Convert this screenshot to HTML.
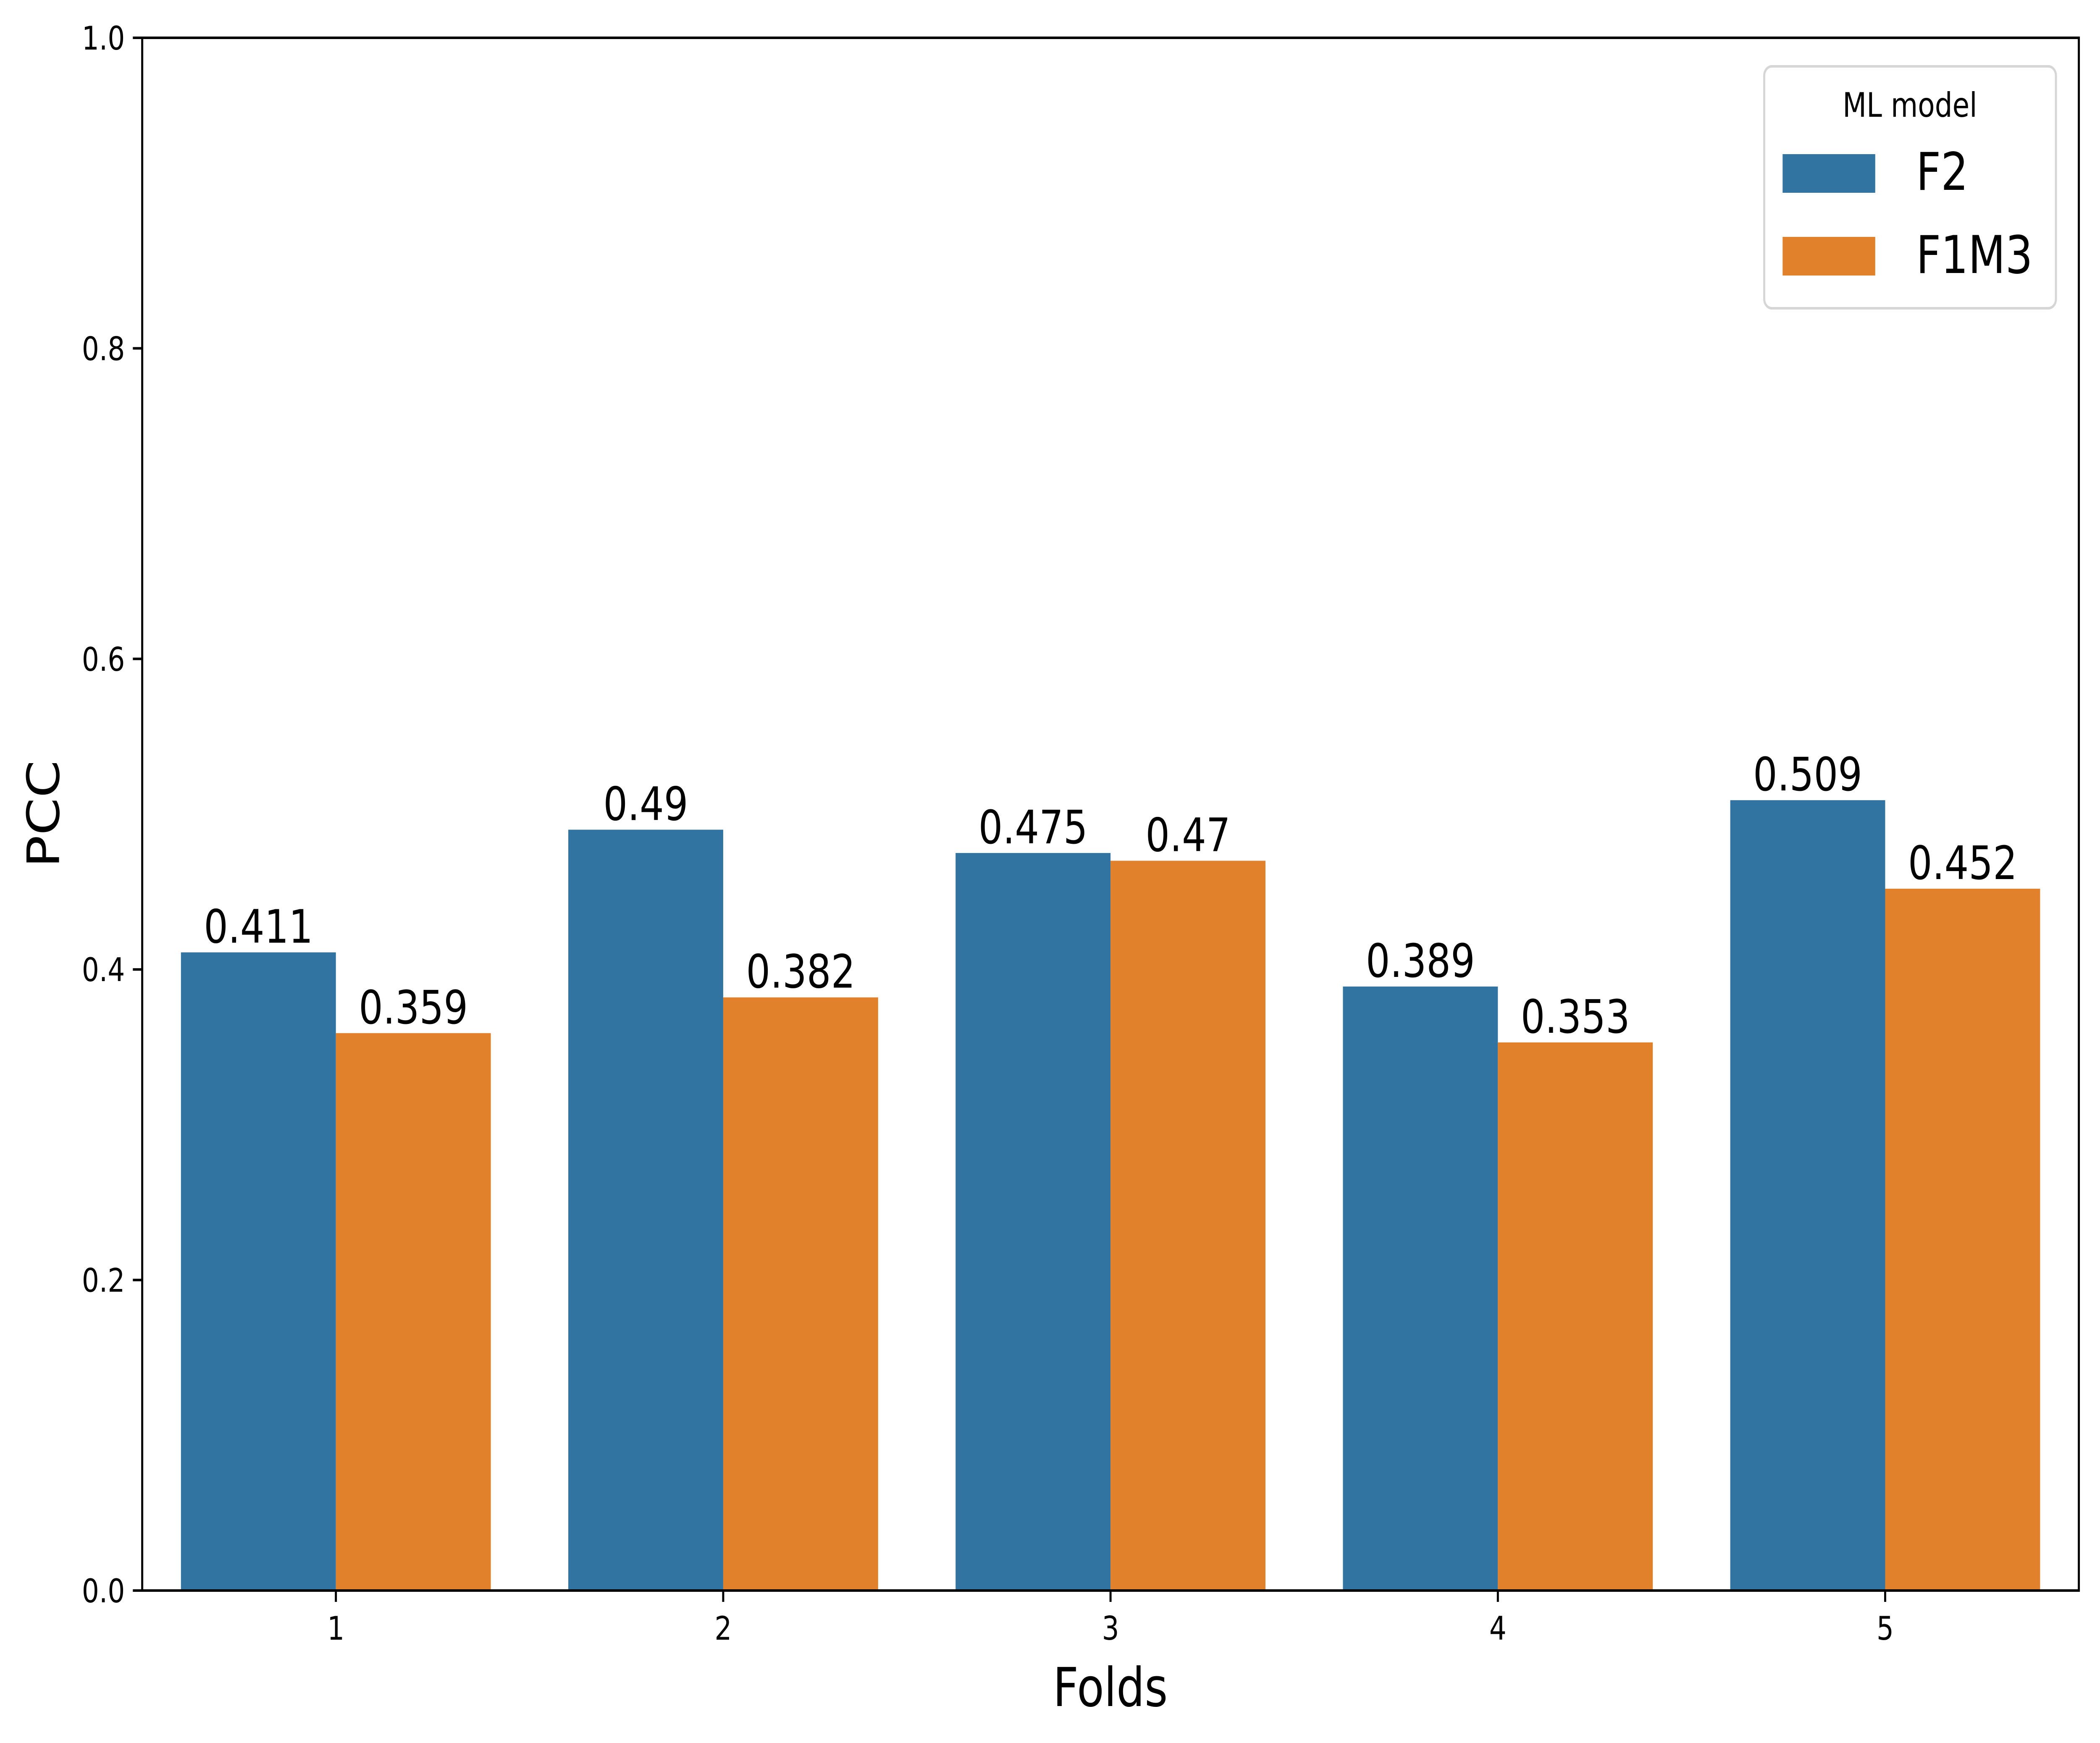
<!DOCTYPE html>
<html><head><meta charset="utf-8"><style>
html,body{margin:0;padding:0;background:#fff;width:100%;height:100%;overflow:hidden;}
svg{display:block;position:absolute;left:0;top:0;width:100vw;height:100vh;font-family:"DejaVu Sans","Liberation Sans",sans-serif;}
</style></head><body>
<svg id="chart" viewBox="0 0 6054 4150" preserveAspectRatio="none" xmlns="http://www.w3.org/2000/svg">
<rect x="0" y="0" width="6054" height="4150" fill="#fff"/>
<g id="plot"></g>
<rect x="5086" y="158" width="841" height="576" rx="22" fill="#fff" stroke="#d6d6d6" stroke-width="6"/>
<text x="5506" y="278" font-size="80" text-anchor="middle">ML model</text>
<rect x="5139" y="367" width="267" height="92" fill="#3274a1"/>
<text x="5524" y="452" font-size="124">F2</text>
<rect x="5139" y="564" width="267" height="92" fill="#e1812c"/>
<text x="5524" y="650" font-size="124">F1M3</text>
<text x="3201" y="4062" font-size="128" text-anchor="middle">Folds</text>
<text transform="translate(170,1938) rotate(-90)" font-size="128" text-anchor="middle">PCC</text>
</svg>
<script>
const folds = ["1","2","3","4","5"];
const f2Values = [0.411, 0.49, 0.475, 0.389, 0.509];
const f1m3Values = [0.359, 0.382, 0.47, 0.353, 0.452];
const f2Labels = ["0.411","0.49","0.475","0.389","0.509"];
const f1m3Labels = ["0.359","0.382","0.47","0.353","0.452"];
const yTicks = [0, 0.2, 0.4, 0.6, 0.8, 1.0];
const yTickLabels = ["0.0","0.2","0.4","0.6","0.8","1.0"];

const L=410, R=5993, T=90, B=3787;
const NS="http://www.w3.org/2000/svg";
const g=document.getElementById('plot');
function xs(i){return L+(i+0.5)/folds.length*(R-L);}
function ys(v){return B-v*(B-T);}
const step=(R-L)/folds.length, bw=step*0.4;
function mk(tag,attrs){const e=document.createElementNS(NS,tag);for(const k in attrs)e.setAttribute(k,attrs[k]);g.appendChild(e);return e;}

const series=[[f2Values,f2Labels,"#3274a1","f2",-1],[f1m3Values,f1m3Labels,"#e1812c","f1m3",0]];
series.forEach(s=>{
  s[0].forEach((v,i)=>{
    const x=xs(i)+s[4]*bw;
    const r=mk('rect',{x:x,y:ys(v),width:bw,height:B-ys(v),fill:s[2]});
    
    
    const t=mk('text',{x:x+bw/2,y:ys(v)-23,'font-size':110,'text-anchor':'middle'});
    t.textContent=s[1][i];
    
    
  });
});
yTicks.forEach((v,i)=>{
  const l=mk('line',{x1:L-27,x2:L,y1:ys(v),y2:ys(v),stroke:'#000','stroke-width':6});
  
  
  const t=mk('text',{x:L-50,y:ys(v)+28,'font-size':78,'text-anchor':'end'});
  t.textContent=yTickLabels[i];
  
  
});
folds.forEach((f,i)=>{
  const l=mk('line',{x1:xs(i),x2:xs(i),y1:B,y2:B+27,stroke:'#000','stroke-width':6});
  
  
  const t=mk('text',{x:xs(i),y:B+117,'font-size':78,'text-anchor':'middle'});
  t.textContent=f;
  
  
});
const fr=mk('rect',{x:L,y:T,width:R-L,height:B-T,fill:'none',stroke:'#000','stroke-width':6});


</script>
</body></html>
